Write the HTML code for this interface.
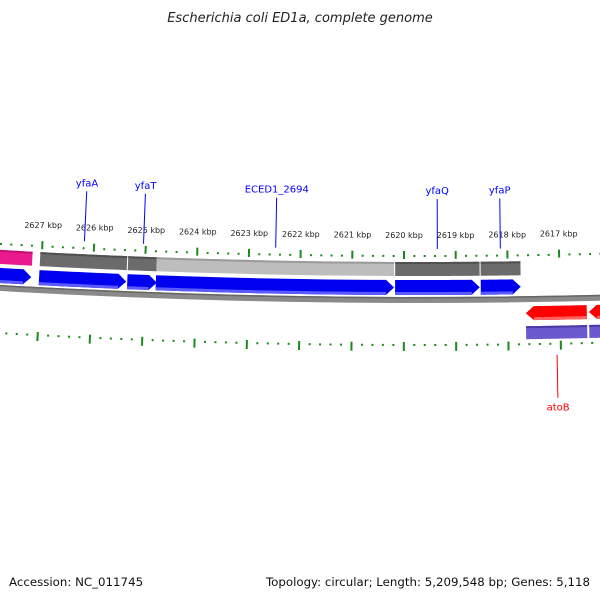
<!DOCTYPE html>
<html><head><meta charset="utf-8"><style>
html,body{margin:0;padding:0;background:#fff;width:600px;height:600px;overflow:hidden}
svg{display:block;font-family:"Liberation Sans","DejaVu Sans",sans-serif}
</style></head><body>
<svg id="map" width="600" height="600" viewBox="0 0 600 600" xmlns="http://www.w3.org/2000/svg">
<text x="300" y="22" text-anchor="middle" font-size="13" font-style="italic" fill="#222" font-family="DejaVu Sans, sans-serif">Escherichia coli ED1a, complete genome</text>
<text x="9" y="586" font-size="11.8" fill="#111" font-family="DejaVu Sans, sans-serif">Accession: NC_011745</text>
<text x="590" y="586" text-anchor="end" font-size="11.8" fill="#111" font-family="DejaVu Sans, sans-serif">Topology: circular; Length: 5,209,548 bp; Genes: 5,118</text>
<g id="layer"></g>
</svg>
<script>
// ---- data ----
const tickKbp = [2629,2628,2627,2626,2625,2624,2623,2622,2621,2620,2619,2618,2617,2616,2615];
const tickLabels = ["2629 kbp","2628 kbp","2627 kbp","2626 kbp","2625 kbp","2624 kbp","2623 kbp","2622 kbp","2621 kbp","2620 kbp","2619 kbp","2618 kbp","2617 kbp","2616 kbp","2615 kbp"];
const fwdStarts = [2629.5, 2627.03, 2625.33, 2624.78, 2620.17, 2618.52];
const fwdEnds   = [2627.18, 2625.35, 2624.76, 2620.19, 2618.54, 2617.75];
const fwdNames  = ["", "yfaA", "yfaT", "ECED1_2694", "yfaQ", "yfaP"];
const fwdBand   = ["pink","dark","dark","light","dark","dark"];
const revStarts = [2616.49, 2615.2];
const revEnds   = [2617.66, 2616.45];
const revNames  = ["atoB", ""];

// ---- geometry ----
const cx = 419, cy = -7004;
const kPerKbp = 0.007121, phi0 = -0.002066;
function phiOf(p){ return (2620 - p) * kPerKbp + phi0; }
function pt(r, phi){ return [cx + r*Math.sin(phi), cy + r*Math.cos(phi)]; }
const NS = "http://www.w3.org/2000/svg";
const layer = document.getElementById('layer');
function mk(tag, attrs){ const e = document.createElementNS(NS, tag); for (const k in attrs) e.setAttribute(k, attrs[k]); return e; }
function arcPts(r, a, b, n){ const out=[]; for(let i=0;i<=n;i++){ out.push(pt(r, a+(b-a)*i/n)); } return out; }
function bandPath(r1, r2, a, b){
  const o = arcPts(r1, a, b, 16), i = arcPts(r2, b, a, 16);
  return 'M' + o.concat(i).map(p=>p[0].toFixed(2)+','+p[1].toFixed(2)).join('L') + 'Z';
}
function arrowPath(r1, r2, pStart, pEnd, tipLeft){
  const a = phiOf(pStart), b = phiOf(pEnd);
  const lo = Math.min(a,b), hi = Math.max(a,b);
  const tip = 8 / ((r1+r2)/2);
  const rm = (r1+r2)/2;
  let pts;
  if (!tipLeft){
    const hb = Math.max(lo, hi - tip);
    pts = arcPts(r1, lo, hb, 16).concat([pt(rm, hi)]).concat(arcPts(r2, hb, lo, 16));
  } else {
    const lb = Math.min(hi, lo + tip);
    pts = [pt(rm, lo)].concat(arcPts(r1, lb, hi, 16)).concat(arcPts(r2, hi, lb, 16));
  }
  return 'M' + pts.map(p=>p[0].toFixed(2)+','+p[1].toFixed(2)).join('L') + 'Z';
}

// backbone
const bbA = -0.07, bbB = 0.05;
let e = mk('path', {d: bandPath(7301, 7307, bbA, bbB), fill:'#8a8a8a'});


layer.appendChild(e);
e = mk('path', {d: bandPath(7301, 7302.5, bbA, bbB), fill:'#666'});


layer.appendChild(e);

// ticks
for (let i = 0; i < tickKbp.length; i++){
  for (let m = 0; m < 5; m++){
    const p = tickKbp[i] - m*0.2;
    const ph = phiOf(p);
    const major = (m === 0);
    let r1 = major ? 7255 : 7259, r2 = major ? 7263 : 7261;
    let A = pt(r1, ph), B = pt(r2, ph);
    let t = mk('line', {x1:A[0], y1:A[1], x2:B[0], y2:B[1], stroke:'#1a8a1a', 'stroke-width':2});
    
    
    layer.appendChild(t);
    r1 = major ? 7346 : 7348; r2 = major ? 7355 : 7350;
    A = pt(r1, ph); B = pt(r2, ph);
    t = mk('line', {x1:A[0], y1:A[1], x2:B[0], y2:B[1], stroke:'#1a8a1a', 'stroke-width':2});
    
    
    layer.appendChild(t);
  }
  const L = pt(7242, phiOf(tickKbp[i]));
  if (L[0] < 22 || L[0] > 578) continue;
  const lab = mk('text', {x:L[0].toFixed(1), y:L[1].toFixed(1), 'text-anchor':'middle', 'font-size':'8', fill:'#222', 'font-family':'DejaVu Sans, sans-serif'});
  lab.textContent = tickLabels[i];
  
  
  layer.appendChild(lab);
}

// forward genes + band
for (let i = 0; i < fwdStarts.length; i++){
  const a = phiOf(fwdStarts[i]), b = phiOf(fwdEnds[i]);
  const col = fwdBand[i]==='pink' ? '#ea1a8e' : (fwdBand[i]==='light' ? '#bdbdbd' : '#6b6b6b');
  const edge = fwdBand[i]==='pink' ? '#c01070' : (fwdBand[i]==='light' ? '#9a9a9a' : '#505050');
  let g = mk('path', {d: bandPath(7266, 7280, a, b), fill: col});
  
  
  layer.appendChild(g);
  g = mk('path', {d: bandPath(7266, 7268, a, b), fill: edge});
  
  
  layer.appendChild(g);
  g = mk('path', {d: arrowPath(7284, 7299, fwdStarts[i], fwdEnds[i], false), fill:'#0000f0'});
  
  
  layer.appendChild(g);
  g = mk('path', {d: bandPath(7296, 7299, a, b - 8/7296), fill:'#5a5aff'});
  
  
  layer.appendChild(g);
  if (fwdNames[i]){
    const mid = phiOf((fwdStarts[i] + fwdEnds[i]) / 2);
    const P = pt(7203, mid), Q = pt(7253, mid), T = pt(7198, mid);
    g = mk('line', {x1:P[0], y1:P[1], x2:Q[0], y2:Q[1], stroke:'#0000ff', 'stroke-width':1});
    
    
    layer.appendChild(g);
    g = mk('text', {x:T[0].toFixed(1), y:T[1].toFixed(1), 'text-anchor':'middle', 'font-size':'10', fill:'#0000ff', 'font-family':'DejaVu Sans, sans-serif'});
    g.textContent = fwdNames[i];
    
    
    layer.appendChild(g);
  }
}

// reverse genes + band
for (let i = 0; i < revStarts.length; i++){
  const a = phiOf(revStarts[i]), b = phiOf(revEnds[i]);
  let g = mk('path', {d: arrowPath(7311, 7325, revStarts[i], revEnds[i], true), fill:'#ff0000'});
  
  
  layer.appendChild(g);
  g = mk('path', {d: bandPath(7322, 7325, Math.min(a,b) + 8/7322, Math.max(a,b)), fill:'#ff6060'});
  
  
  layer.appendChild(g);
  g = mk('path', {d: bandPath(7331, 7344, a, b), fill:'#6a5acd'});
  
  
  layer.appendChild(g);
  g = mk('path', {d: bandPath(7331, 7333, a, b), fill:'#4a3aa8'});
  
  
  layer.appendChild(g);
  if (revNames[i]){
    const mid = phiOf((revStarts[i] + revEnds[i]) / 2);
    const P = pt(7360, mid), Q = pt(7403, mid), T = pt(7416, mid);
    g = mk('line', {x1:P[0], y1:P[1], x2:Q[0], y2:Q[1], stroke:'#ff0000', 'stroke-width':1});
    
    
    layer.appendChild(g);
    g = mk('text', {x:T[0].toFixed(1), y:T[1].toFixed(1), 'text-anchor':'middle', 'font-size':'10', fill:'#ff0000', 'font-family':'DejaVu Sans, sans-serif'});
    g.textContent = revNames[i];
    
    
    layer.appendChild(g);
  }
}
</script>
</body></html>
